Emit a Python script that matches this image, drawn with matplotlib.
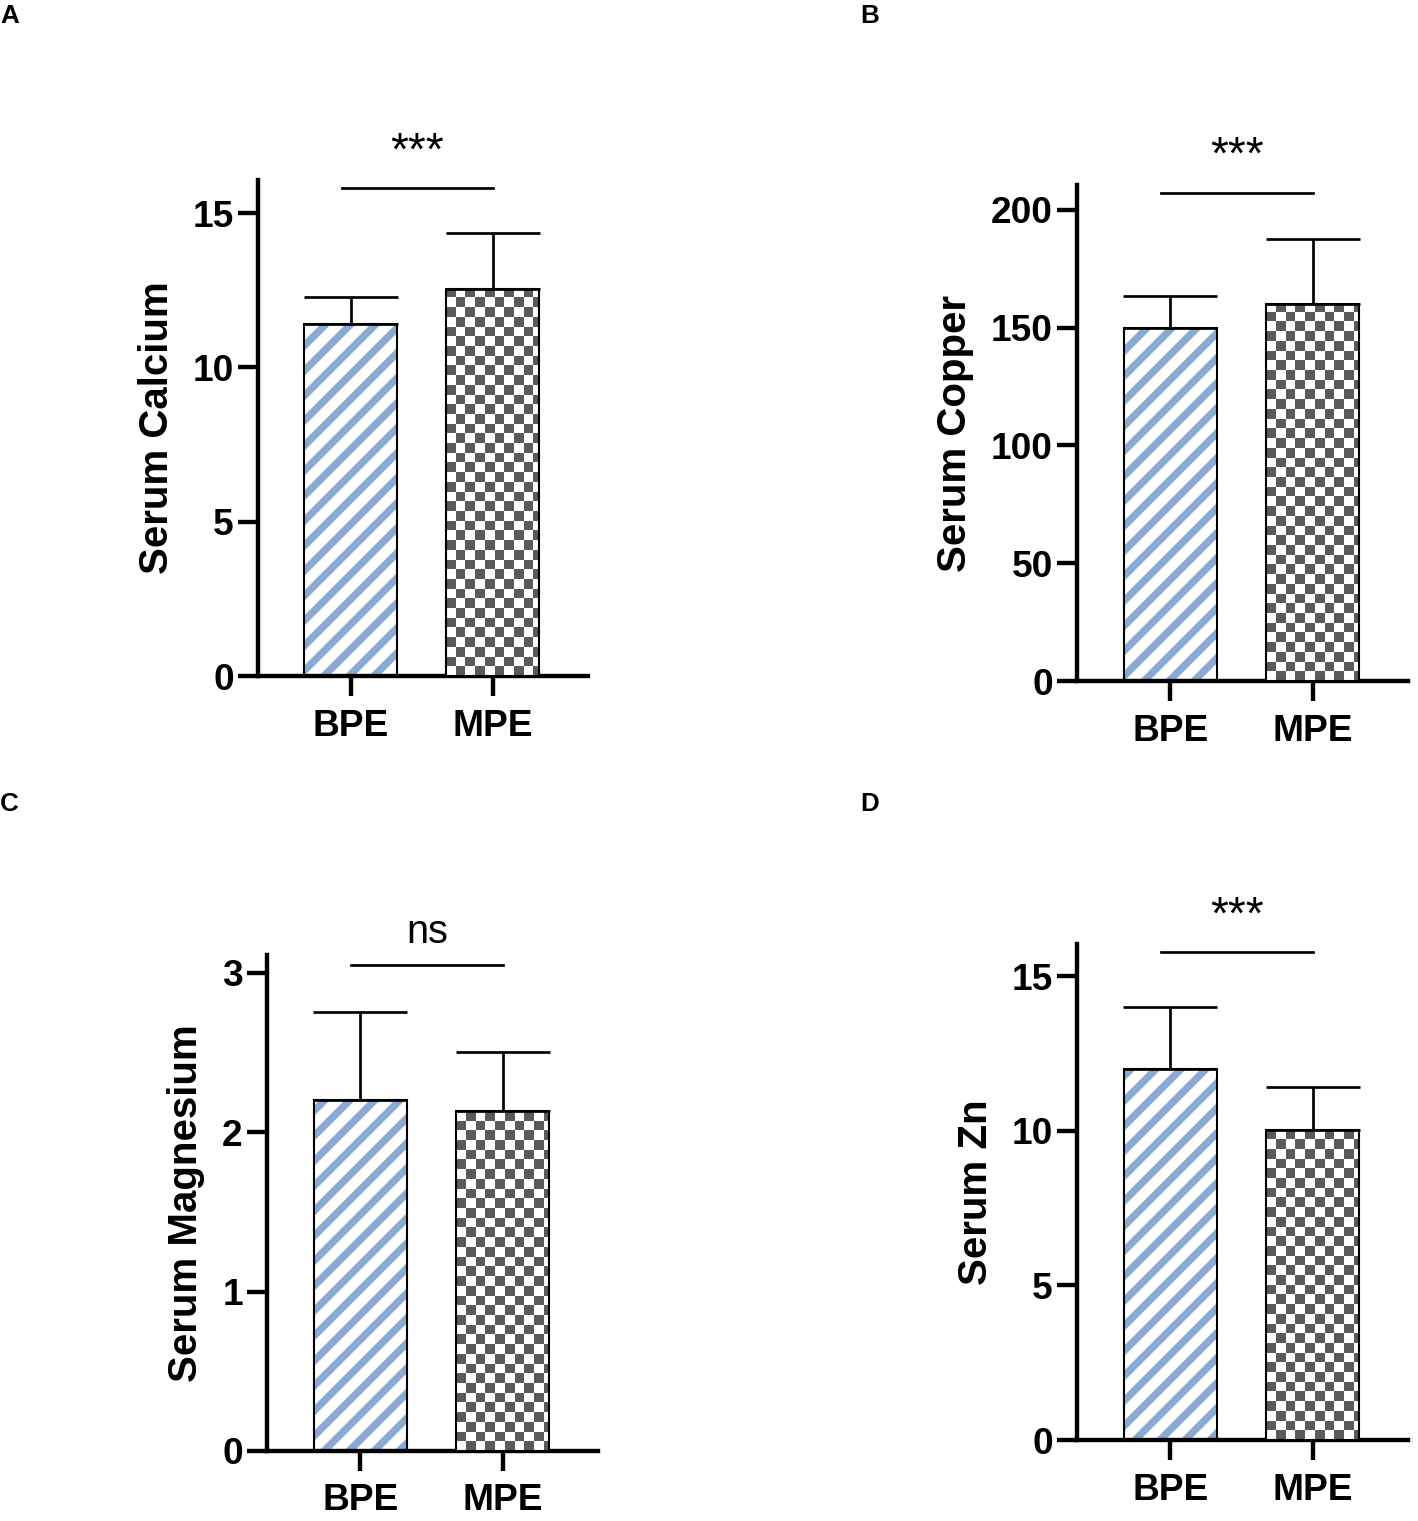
import numpy as np
import matplotlib
matplotlib.use("Agg")
import matplotlib.pyplot as plt
from matplotlib.colors import ListedColormap

# ---------------- data ----------------
categories = ["BPE", "MPE"]

calcium_mean = [11.40, 12.53]
calcium_sd = [0.87, 1.82]

copper_mean = [150.0, 160.2]
copper_sd = [13.5, 27.6]

magnesium_mean = [2.20, 2.134]
magnesium_sd = [0.55, 0.37]

zinc_mean = [11.99, 10.02]
zinc_sd = [2.00, 1.39]

ylabels = ["Serum Calcium", "Serum Copper", "Serum Magnesium", "Serum Zn"]
yticks_A = [0, 5, 10, 15]
yticks_B = [0, 50, 100, 150, 200]
yticks_C = [0, 1, 2, 3]
yticks_D = [0, 5, 10, 15]
sig_labels = ["***", "***", "ns", "***"]
sig_levels = [15.8, 207.3, 3.05, 15.77]
panel_letters = ["A", "B", "C", "D"]

# ---------------- style ----------------
DPI = 150
W, H = 1418, 1521
plt.rcParams["font.family"] = ["Liberation Sans", "DejaVu Sans"]
plt.rcParams["hatch.linewidth"] = 3.5

BLUE = "#8AAAD4"
DARK = "#5A5A5A"

fig = plt.figure(figsize=(W / DPI, H / DPI), dpi=DPI)


def px_rect(left, top, right, bottom):
    return [left / W, 1 - bottom / H, (right - left) / W, (bottom - top) / H]


panels = [
    dict(rect=px_rect(258, 180, 588, 676), ylim=16.07, means=calcium_mean, sds=calcium_sd,
         yticks=yticks_A, letter_xy=(0, 4)),
    dict(rect=px_rect(1077, 185, 1408, 681), ylim=210.6, means=copper_mean, sds=copper_sd,
         yticks=yticks_B, letter_xy=(860, 4)),
    dict(rect=px_rect(267, 955, 598, 1451), ylim=3.11, means=magnesium_mean, sds=magnesium_sd,
         yticks=yticks_C, letter_xy=(0, 792)),
    dict(rect=px_rect(1077, 944, 1408, 1440), ylim=16.04, means=zinc_mean, sds=zinc_sd,
         yticks=yticks_D, letter_xy=(860, 792)),
]

bar_w = 0.655
x = np.arange(len(categories))
SQ = 9.7  # checker square size in pixels

for i, p in enumerate(panels):
    ax = fig.add_axes(p["rect"])
    ax.set_xlim(-0.655, 1.67)
    ax.set_ylim(0, p["ylim"])

    means = p["means"]
    sds = p["sds"]

    # BPE: white with blue diagonal stripes
    ax.bar(x[0], means[0], width=bar_w, color="white", edgecolor=BLUE, hatch="//",
           linewidth=0, zorder=2)
    # MPE: white base (checker image drawn on top, clipped)
    mpe_base = ax.bar(x[1], means[1], width=bar_w, color="white", linewidth=0, zorder=2)[0]

    # outlines
    ax.bar(x, means, width=bar_w, fill=False, edgecolor="black", linewidth=1.0, zorder=4)

    # checkerboard fill for MPE
    sx = ax.transData.transform((1, 0))[0] - ax.transData.transform((0, 0))[0]
    sy = ax.transData.transform((0, 1))[1] - ax.transData.transform((0, 0))[1]
    dx, dy = SQ / sx, SQ / sy
    x0 = x[1] - bar_w / 2
    nx = int(np.ceil(bar_w / dx)) + 1
    ny = int(np.ceil(means[1] / dy)) + 1
    jj, ii = np.meshgrid(np.arange(nx), np.arange(ny))
    checker = ((ii + jj) % 2).astype(float)
    im = ax.imshow(checker, extent=[x0, x0 + nx * dx, 0, ny * dy], origin="lower",
                   cmap=ListedColormap(["white", DARK]), interpolation="nearest",
                   aspect="auto", zorder=3, vmin=0, vmax=1)
    im.set_clip_path(mpe_base)
    ax.set_xlim(-0.655, 1.67)
    ax.set_ylim(0, p["ylim"])

    # one-sided error bars
    ax.errorbar(x, means, yerr=[[0, 0], sds], fmt="none", ecolor="black",
                elinewidth=1.3, capsize=22.5, capthick=1.3, zorder=5)

    # significance bracket
    x_a, x_b = -0.065, 1.0
    ax.plot([x_a, x_b], [sig_levels[i]] * 2, color="black", lw=1.3, clip_on=False, zorder=5)
    is_ns = sig_labels[i] == "ns"
    ax.annotate(sig_labels[i], xy=((x_a + x_b) / 2, sig_levels[i]),
                xytext=(0, 10.5 if is_ns else 11.5),
                textcoords="offset points", ha="center", va="baseline",
                fontsize=19 if is_ns else 22, annotation_clip=False)

    # axes styling
    for s in ["top", "right"]:
        ax.spines[s].set_visible(False)
    for s in ["left", "bottom"]:
        ax.spines[s].set_linewidth(2.1)
    ax.set_yticks(p["yticks"])
    ax.set_xticks(x)
    ax.set_xticklabels(categories)
    ax.tick_params(axis="both", direction="out", length=9.6, width=2.1, labelsize=17.8)
    ax.tick_params(axis="y", pad=2)
    ax.tick_params(axis="x", pad=6)
    for lab in ax.get_xticklabels() + ax.get_yticklabels():
        lab.set_fontweight("bold")
    ax.set_ylabel(ylabels[i], fontsize=19.3, fontweight="bold", labelpad=8)

    lx, ly = p["letter_xy"]
    fig.text(lx / W, 1 - ly / H, panel_letters[i], fontsize=12.5, fontweight="bold",
             ha="left", va="top")

fig.savefig("out.png", dpi=DPI)
